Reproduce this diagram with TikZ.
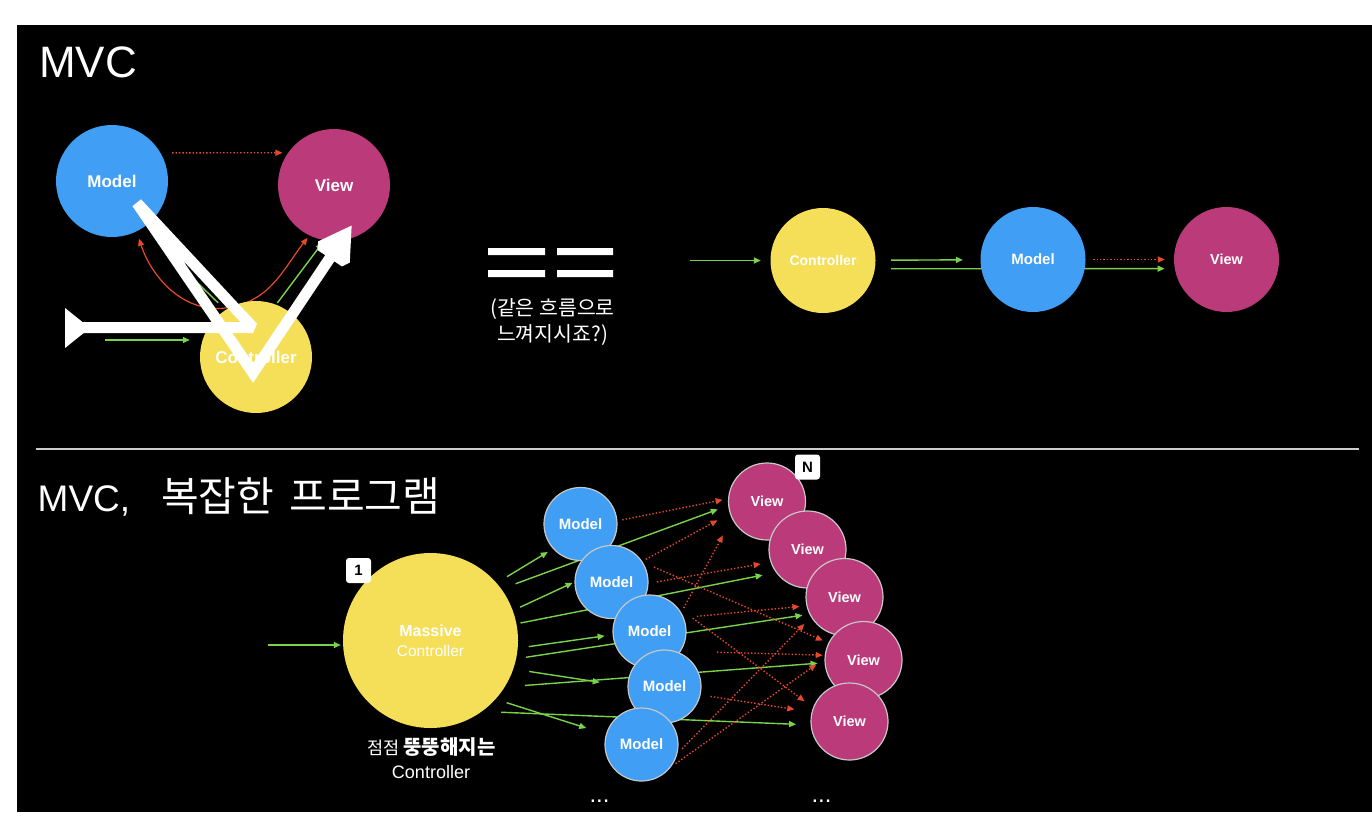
\documentclass[tikz,border=0pt]{standalone}
\usepackage{fontspec}
\setmainfont{Liberation Sans}
\newfontfamily\kr{Noto Sans CJK KR}
\usetikzlibrary{arrows.meta,positioning,backgrounds}

\definecolor{mblue}{RGB}{64,158,244}
\definecolor{vpink}{RGB}{186,58,122}
\definecolor{cyellow}{RGB}{245,222,88}
\definecolor{agreen}{RGB}{122,210,74}
\definecolor{ared}{RGB}{230,72,42}
\newcommand{\fsz}[1]{\fontsize{#1}{#1}\selectfont}

\pgfdeclarelayer{back}
\pgfdeclarelayer{front}
\pgfsetlayers{back,background,main,front}

\begin{document}
\begin{tikzpicture}[x=1pt, y=-1pt,
  modelc/.style={circle, fill=mblue, text=white, inner sep=0pt, minimum size=#1, font=\bfseries\fsz{15}},
  viewc/.style={circle, fill=vpink, text=white, inner sep=0pt, minimum size=#1, font=\bfseries\fsz{15}},
  ctrlc/.style={circle, fill=cyellow, text=white, inner sep=0pt, minimum size=#1, font=\bfseries\fsz{15}},
  ring/.style={draw=white!78!black, line width=1.2pt},
  badge/.style={fill=white, rounded corners=3pt, minimum size=25pt, inner sep=0pt, font=\bfseries\fsz{15}},
  garrow/.style={agreen, line width=1.4pt, -{Triangle[length=7pt,width=6pt]}},
  rarrow/.style={ared, line width=1.4pt, dotted, -{Triangle[length=7pt,width=6pt]}},
  txt/.style={text=white, inner sep=0pt}]

\useasboundingbox (0,0) rectangle (1372,838);
\begin{pgfonlayer}{back}
\fill[white] (0,0) rectangle (1372,838);
\fill[black] (17,25) rectangle (1372,812);
\draw[white!80!black, line width=2pt] (36,449) -- (1359,449);
\end{pgfonlayer}

% top: MVC
\node[txt, anchor=base west, font=\fsz{44}] (title1) at (39,77) {MVC};
\node[modelc=112pt, font=\bfseries\fsz{17}] (m) at (112,181) {Model};
\node[viewc=112pt, font=\bfseries\fsz{17}] (v) at (334,185) {View};
\node[ctrlc=112pt, font=\bfseries\fsz{17}] (c) at (256,357) {Controller};
\coordinate (in1) at (105,340);

\begin{scope}[on background layer]
\draw[rarrow, line width=1.3pt, shorten <=11.5pt, shorten >=5.5pt] (m.30) -- (v.145);
\draw[garrow, shorten >=10pt] (in1) -- (in1 -| c.west);
\draw[garrow, shorten <=10pt, shorten >=36pt] (c.123) -- (m.-58);
\draw[garrow, shorten <=2pt, shorten >=3pt] (c.69) -- (v.-100);
\draw[ared, line width=1.2pt, -{Triangle[length=7pt,width=6pt]}, shorten >=7.5pt] (c.118) to[out=190, in=-72] (m.-64);
\draw[ared, line width=1.2pt, -{Triangle[length=7pt,width=6pt]}, shorten >=3pt] (c.118) to[out=10, in=-128] (v.-116);
\end{scope}

% the thick white stroke over the top diagram
\begin{pgfonlayer}{front}
\fill[white] (65,308) -- (90,328) -- (65,348) -- cycle;
\draw[white, line width=11pt, line join=miter, miter limit=2, -{Triangle[width=44pt,length=40pt]}]
  (82,327.5) -- (253,327.5) -- (137,203) -- (253,373) -- (352,225);
\end{pgfonlayer}

% == (same flow)
\fill[white] (488,248) rectangle (545,255) (557,248) rectangle (613,255)
  (488,270) rectangle (545,277) (557,270) rectangle (613,277);
\node[txt, align=center, font=\kr\fontsize{20.5}{26}\selectfont] (same) at (552.5,322) {(같은 흐름으로\\느껴지시죠?)};

\node[ctrlc=105pt, font=\bfseries\fsz{14}] (c2) at (823,260.5) {Controller};
\node[viewc=105pt, font=\bfseries\fsz{14.5}] (v2) at (1226.5,259.5) {View};
\node[modelc=105pt] (m2) at (1033,259.5) {Model};
\coordinate (in2) at (690,260.5);

\begin{scope}[on background layer]
\draw[garrow, shorten >=9.5pt] (in2) -- (in2 -| c2.west);
\draw[garrow, shorten <=15.5pt, shorten >=17.5pt] (c2) -- (m2);
\draw[garrow, shorten <=16pt, shorten >=10pt] (c2.-9.3) -- (v2.190.4);
\draw[rarrow, shorten <=7.5pt, shorten >=9pt] (m2) -- (v2);
\end{scope}

% bottom: MVC, complex program
\node[txt, anchor=base west, font=\fsz{37}] (title2) at (37.5,511) {MVC,\hspace{31pt}{\kr\fsz{41}복잡한\hspace{15pt}프로그램}};

\node[ctrlc=175pt, align=center, font=\fontsize{15.5}{20}\selectfont] (mc) at (430.5,640.5) {{\bfseries\fsz{16}Massive}\\Controller};
\node[badge] (one) at (358.5,570.5) {1};
\coordinate (in3) at (268,645);
\node[txt, font=\kr\fsz{17.5}] (fat) at (431.5,747) {점점 {\bfseries\fsz{20}뚱뚱해지는}};
\node[txt, font=\fsz{18}] (fatc) at (431,772) {Controller};

\node[modelc=73pt, ring] (m1) at (580.5,524) {Model};
\node[modelc=73pt, ring] (m2b) at (611.5,582) {Model};
\node[modelc=73pt, ring] (m3) at (649.5,631.5) {Model};
\node[modelc=73pt, ring] (m4) at (664.5,686.5) {Model};
\node[modelc=73pt, ring] (m5) at (641.5,744.5) {Model};

\node[viewc=77pt, ring, font=\bfseries\fsz{14.5}] (v1) at (767,501.5) {View};
\node[viewc=77pt, ring, font=\bfseries\fsz{14.5}] (v2b) at (807.5,549.5) {View};
\node[viewc=77pt, ring, font=\bfseries\fsz{14.5}] (v3) at (844.5,597) {View};
\node[viewc=77pt, ring, font=\bfseries\fsz{14.5}] (v4) at (863.5,660) {View};
\node[viewc=77pt, ring, font=\bfseries\fsz{14.5}] (v5) at (849.5,721.5) {View};
\node[badge] (nn) at (807.5,467) {N};

\node[txt, font=\fsz{24}] (mdots) at (599.5,801) {...};
\node[txt, font=\fsz{24}] (vdots) at (821.5,801) {...};

\begin{scope}[on background layer]
\draw[garrow, shorten >=2pt] (in3) -- (in3 -| mc.west);
% controller to models and views
\draw[garrow, shorten <=12pt, shorten >=6pt] (mc.41) -- (m1.-138);
\draw[garrow, shorten <=15pt, shorten >=11pt] (mc.36) -- (v1.186);
\draw[garrow, shorten <=8pt, shorten >=2pt] (mc.20) -- (m2b.180);
\draw[garrow, shorten <=4pt, shorten >=13.5pt] (mc.11) -- (v2b.216);
\draw[garrow, shorten <=11pt, shorten >=8pt] (mc.-5.5) -- (m3.185);
\draw[garrow, shorten <=10pt, shorten >=7pt] (mc.-12) -- (v3.206);
\draw[garrow, shorten <=16pt, shorten >=28pt] (mc.-19) -- (m4.180);
\draw[garrow, shorten <=20pt, shorten >=7pt] (mc.-32) -- (v4.184);
\draw[garrow, shorten <=11.5pt, shorten >=20.5pt] (mc.-42) -- (m5.164);
\draw[garrow, shorten <=19pt, shorten >=14.5pt] (mc.-54) -- (v5.185);
% models to views
\draw[rarrow, shorten <=5pt, shorten >=5.5pt] (m1.5.5) -- (v1.176);
\draw[rarrow, shorten <=4pt, shorten >=14pt] (m2b.34) -- (v1.198);
\draw[rarrow, shorten <=5pt, shorten >=19pt] (m3.31) -- (v1.206);
\draw[rarrow, shorten <=12pt, shorten >=6pt] (m2b.32) -- (v4.154);
\draw[rarrow, shorten <=8.5pt, shorten >=10pt] (m2b.-2) -- (v2b.199);
\draw[rarrow, shorten <=20pt, shorten >=10.5pt] (m3.43) -- (v5.159);
\draw[rarrow, shorten <=13pt, shorten >=7pt] (m3.22) -- (v3.193);
\draw[rarrow, shorten <=36pt, shorten >=2pt] (m3.-32) -- (v4.173);
\draw[rarrow, shorten <=10pt, shorten >=17.5pt] (m4.-13) -- (v5.166);
\draw[rarrow, shorten <=6.5pt, shorten >=9.5pt] (m5.-14) -- (v3.211);
\draw[rarrow, shorten <=5.5pt, shorten >=10pt] (m5.-37) -- (v4.178);
\end{scope}
\end{tikzpicture}
\end{document}
